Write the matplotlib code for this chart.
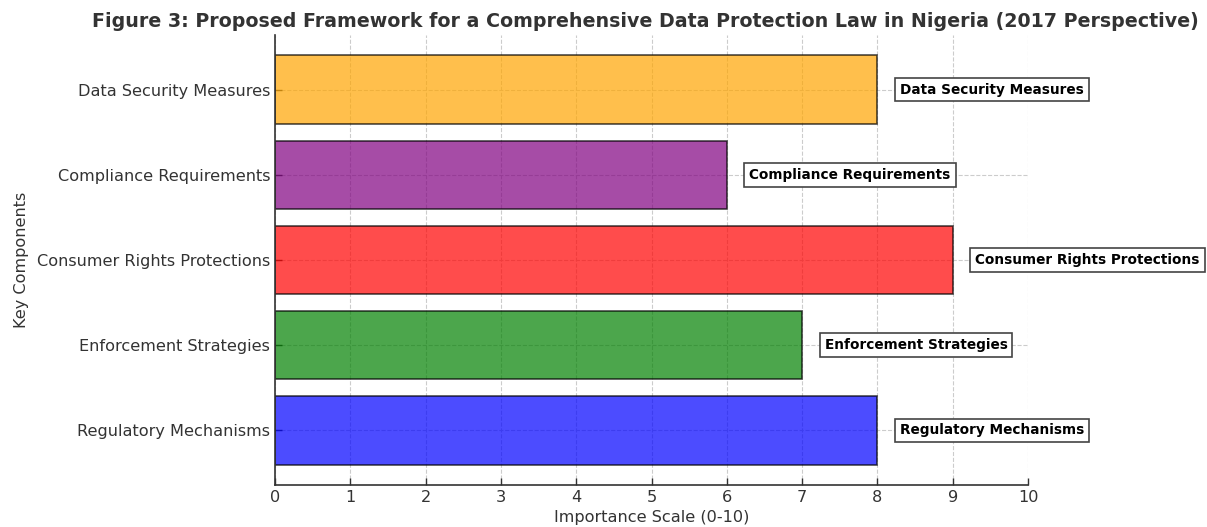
import matplotlib
matplotlib.use("Agg")
import matplotlib.pyplot as plt

components = [
    "Regulatory Mechanisms",
    "Enforcement Strategies",
    "Consumer Rights Protections",
    "Compliance Requirements",
    "Data Security Measures",
]
importance = [8, 7, 9, 6, 8]
colors = ["blue", "green", "red", "purple", "orange"]
x_ticks = list(range(0, 11))

title = "Figure 3: Proposed Framework for a Comprehensive Data Protection Law in Nigeria (2017 Perspective)"
text_color = "#333333"

fig = plt.figure(figsize=(12.07, 5.27), dpi=100)
ax = fig.add_axes([275 / 1207, 42 / 527, 753 / 1207, 450 / 527])

ax.barh(components, importance, color=colors, alpha=0.7, edgecolor="black",
        linewidth=1.2, height=0.8, zorder=2)

for i, (name, val) in enumerate(zip(components, importance)):
    ax.text(val + 0.3, i, name, va="center", ha="left", fontsize=9.8,
            fontweight="bold", color="black", zorder=4,
            bbox=dict(facecolor="white", edgecolor="#444444", linewidth=1.2,
                      boxstyle="square,pad=0.36"))

ax.set_xlim(0, 10)
ax.set_xticks(x_ticks)
ax.grid(True, linestyle="--", color="#cccccc", linewidth=0.8, zorder=0)
ax.set_axisbelow(True)

for side in ("top", "right"):
    ax.spines[side].set_visible(False)
for side in ("left", "bottom"):
    ax.spines[side].set_color(text_color)
    ax.spines[side].set_linewidth(1.2)

ax.tick_params(direction="in", length=5, width=1, colors=text_color,
               labelsize=11.6, labelcolor=text_color)

ax.set_xlabel("Importance Scale (0-10)", fontsize=11.6, color=text_color, labelpad=4)
ax.set_ylabel("Key Components", fontsize=11.6, color=text_color, labelpad=6)
fig.text(645 / 1207, 1 - 27 / 527, title, fontsize=13.7, fontweight="bold",
         color=text_color, ha="center", va="baseline")

fig.savefig("out.png", dpi=100)
